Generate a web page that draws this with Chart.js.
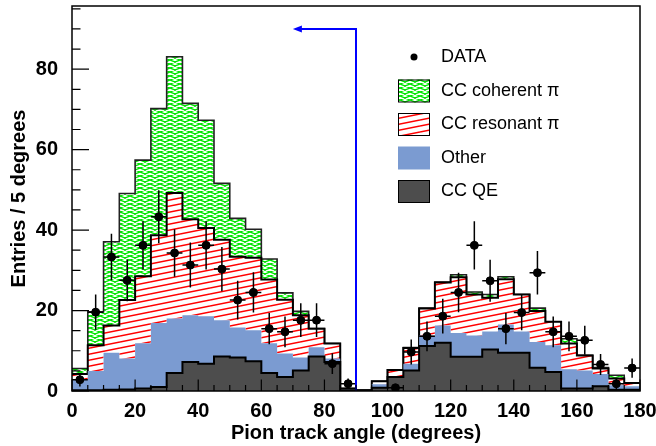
<!DOCTYPE html>
<html>
<head>
<meta charset="utf-8">
<script src="https://cdn.jsdelivr.net/npm/chart.js@4.4.0/dist/chart.umd.min.js"></script>
<style>
  html, body { margin: 0; padding: 0; background: #fff; }
  #wrap { width: 656px; height: 446px; }
</style>
</head>
<body>
<div id="wrap"><canvas id="angle-chart" width="656" height="446"></canvas></div>
<script>
// 5-degree bins, 0 to 180
const binEdges = [0, 5, 10, 15, 20, 25, 30, 35, 40, 45, 50, 55, 60, 65, 70, 75, 80, 85,
                  90, 95, 100, 105, 110, 115, 120, 125, 130, 135, 140, 145, 150, 155, 160, 165, 170, 175, 180];

// MC components per bin (stacked bottom to top)
const ccQE = [0.2, 0.2, 0.3, 0.4, 0.6, 1.0, 4.5, 7.2, 6.8, 8.6, 8.3, 7.4, 4.5, 3.5, 5.1, 8.6, 7.2, 0.2,
              0.1, 0.8, 3.5, 5.1, 11.2, 12.0, 8.5, 8.5, 10.3, 9.5, 9.5, 5.8, 4.7, 0.6, 0.6, 1.2, 0.3, 0.3];
const other = [2.8, 4.8, 9.2, 7.7, 11.3, 15.9, 13.5, 11.6, 11.8, 9.0, 7.5, 7.7, 7.4, 5.8, 3.2, 2.3, 0.9, 0.1,
               0.0, 0.9, 0.0, 1.7, 2.6, 4.3, 5.9, 5.3, 4.5, 7.0, 5.3, 6.4, 6.7, 4.8, 4.5, 3.0, 1.1, 0.9];
const ccResonant = [1.2, 6.4, 6.8, 14.5, 16.6, 21.8, 31.2, 23.9, 21.9, 20.0, 17.6, 18.0, 15.8, 13.4, 10.5, 4.6, 3.7, 0.3,
                    0.1, 0.7, 1.7, 3.9, 6.7, 10.7, 13.9, 10.2, 8.4, 11.3, 9.2, 7.7, 5.8, 6.4, 3.7, 1.4, 1.7, 0.8];
const ccCoherent = [1.4, 8.3, 20.8, 26.5, 28.9, 31.5, 33.9, 28.8, 26.8, 14.0, 9.5, 7.1, 5.1, 1.7, 1.0, 0.0, 0.0, 0.0,
                    0.0, 0.0, 0.1, 0.1, 0.1, 0.1, 0.6, 0.6, 0.8, 0.6, 0.0, 0.7, 0.0, 1.2, 0.1, 0.2, 0.8, 0.0];

// measured entries and their errors (empty bins have no marker)
const dataValues = [2.8, 19.6, 33.3, 27.5, 36.2, 43.3, 34.3, 31.3, 36.2, 30.3, 22.6, 24.5, 15.5, 14.7, 17.6, 17.6, 6.8, 1.8,
                    null, null, 0.8, 9.7, 13.6, 18.6, 24.5, 36.2, 27.4, 15.5, 19.5, 29.4, 14.7, 13.6, 12.6, 6.6, 1.8, 5.7];
const dataErrors = [1.7, 4.4, 5.8, 5.2, 6.0, 6.6, 5.9, 5.6, 6.0, 5.5, 4.8, 5.0, 3.9, 3.8, 4.2, 4.2, 2.6, 1.3,
                    null, null, 0.9, 3.1, 3.7, 4.3, 4.9, 6.0, 5.2, 3.9, 4.4, 5.4, 3.8, 3.7, 3.6, 2.6, 1.3, 2.4];

// cut arrow: vertical at 90 deg, pointing back towards 70 deg
const cutAngle = 90;
const arrowHeight = 90;
const arrowTip = 70;

const canvas = document.getElementById('angle-chart');
const mainCtx = canvas.getContext('2d');

function makePattern(w, h, color, lineWidth, drawLines) {
    const tile = document.createElement('canvas');
    tile.width = w;
    tile.height = h;
    const g = tile.getContext('2d');
    g.fillStyle = '#fff';
    g.fillRect(0, 0, w, h);
    g.strokeStyle = color;
    g.lineWidth = lineWidth;
    g.beginPath();
    drawLines(g);
    g.stroke();
    return mainCtx.createPattern(tile, 'repeat');
}

// red single hatch, gently rising to the right
const resonantFill = makePattern(30, 6, '#ff0000', 1.5, g => {
    for (let k = -1; k <= 2; k++) {
        g.moveTo(0, 6 * k + 6);
        g.lineTo(30, 6 * k);
    }
});

// green cross hatch
const coherentFill = makePattern(10, 4, '#00e600', 1.3, g => {
    for (let k = -1; k <= 2; k++) {
        g.moveTo(0, 4 * k);
        g.lineTo(10, 4 * k + 4);
        g.moveTo(0, 4 * k + 4);
        g.lineTo(10, 4 * k);
    }
});

const colors = {
    qe: '#4d4d4d',
    other: '#7b9bd1',
    arrow: '#0000ff'
};

// histogram as step line: value of bin i held from edge i to edge i+1
function stepPoints(values) {
    return binEdges.map((x, i) => ({ x, y: values[Math.min(i, values.length - 1)] }));
}

const dataPoints = [];
dataValues.forEach((v, i) => {
    if (v !== null) dataPoints.push({ x: (binEdges[i] + binEdges[i + 1]) / 2, y: v });
});

function histDataset(label, values, fill, background, border, width) {
    return {
        type: 'line',
        label,
        data: stepPoints(values),
        stack: 'mc',
        stepped: 'before',
        fill,
        backgroundColor: background,
        borderColor: border,
        borderWidth: width,
        pointRadius: 0,
        tension: 0
    };
}

const overlayPlugin = {
    id: 'overlay',
    afterDatasetsDraw(chart) {
        const { ctx, scales: { x, y } } = chart;

        // error bars on the data points
        ctx.save();
        ctx.strokeStyle = '#000';
        ctx.lineWidth = 1.5;
        ctx.beginPath();
        dataValues.forEach((v, i) => {
            if (v === null) return;
            const lo = binEdges[i], hi = binEdges[i + 1];
            const cx = x.getPixelForValue((lo + hi) / 2);
            const cy = y.getPixelForValue(v);
            ctx.moveTo(x.getPixelForValue(lo), cy);
            ctx.lineTo(x.getPixelForValue(hi), cy);
            ctx.moveTo(cx, y.getPixelForValue(Math.max(0, v - dataErrors[i])));
            ctx.lineTo(cx, y.getPixelForValue(v + dataErrors[i]));
        });
        ctx.stroke();

        // cut line and arrow
        const ax = x.getPixelForValue(cutAngle);
        const ay = y.getPixelForValue(arrowHeight);
        const tx = x.getPixelForValue(arrowTip);
        ctx.strokeStyle = colors.arrow;
        ctx.fillStyle = colors.arrow;
        ctx.lineWidth = 2;
        ctx.beginPath();
        ctx.moveTo(ax, y.getPixelForValue(0));
        ctx.lineTo(ax, ay);
        ctx.lineTo(tx + 4, ay);
        ctx.stroke();
        ctx.beginPath();
        ctx.moveTo(tx, ay);
        ctx.lineTo(tx + 9, ay - 3.5);
        ctx.lineTo(tx + 9, ay + 3.5);
        ctx.closePath();
        ctx.fill();
        ctx.restore();
    },
    afterDraw(chart) {
        const { ctx, chartArea: area, scales: { x, y } } = chart;
        ctx.save();

        // frame
        ctx.strokeStyle = '#000';
        ctx.lineWidth = 1.5;
        ctx.strokeRect(area.left, area.top, area.right - area.left, area.bottom - area.top);

        // inward tick marks
        ctx.lineWidth = 1.2;
        ctx.beginPath();
        for (let v = 0; v <= 95; v += 5) {
            const py = y.getPixelForValue(v);
            const len = v % 20 === 0 ? 17 : 8.5;
            ctx.moveTo(area.left, py);
            ctx.lineTo(area.left + len, py);
        }
        for (let v = 0; v <= 180; v += 5) {
            const px = x.getPixelForValue(v);
            const len = v % 20 === 0 ? 11.5 : 6;
            ctx.moveTo(px, area.bottom);
            ctx.lineTo(px, area.bottom - len);
        }
        ctx.stroke();

        // legend
        const boxX = 398, boxW = 32, boxH = 23, textX = 441;
        ctx.font = '18px "Liberation Sans", Arial, sans-serif';
        ctx.textBaseline = 'middle';
        ctx.fillStyle = '#000';

        ctx.beginPath();
        ctx.arc(boxX + boxW / 2, 57, 3.5, 0, Math.PI * 2);
        ctx.fill();
        ctx.fillText('DATA', textX, 57);

        const entries = [
            { label: 'CC coherent \u03c0', fill: coherentFill, border: true, cy: 91 },
            { label: 'CC resonant \u03c0', fill: resonantFill, border: true, cy: 124.5 },
            { label: 'Other', fill: colors.other, border: false, cy: 158 },
            { label: 'CC QE', fill: colors.qe, border: true, cy: 191.5 }
        ];
        entries.forEach(e => {
            const top = e.cy - boxH / 2;
            ctx.fillStyle = e.fill;
            ctx.fillRect(boxX, top, boxW, boxH);
            if (e.border) {
                ctx.strokeStyle = '#000';
                ctx.lineWidth = 1;
                ctx.strokeRect(boxX + 0.5, top + 0.5, boxW - 1, boxH - 1);
            }
            ctx.fillStyle = '#000';
            ctx.fillText(e.label, textX, e.cy);
        });
        ctx.restore();
    }
};

const axisFont = { family: '"Liberation Sans", Arial, sans-serif', size: 20, weight: 'bold' };

const angleChart = new Chart(mainCtx, {
    data: {
        datasets: [
            {
                type: 'scatter',
                label: 'DATA',
                data: dataPoints,
                stack: 'data',
                pointRadius: 4,
                pointBackgroundColor: '#000',
                pointBorderColor: '#000',
                pointBorderWidth: 1
            },
            histDataset('CC QE', ccQE, 'origin', colors.qe, '#000', 2),
            histDataset('Other', other, '-1', colors.other, 'rgba(0,0,0,0)', 1),
            histDataset('CC resonant', ccResonant, '-1', resonantFill, '#000', 2),
            histDataset('CC coherent', ccCoherent, '-1', coherentFill, '#222', 1.6)
        ]
    },
    options: {
        responsive: false,
        devicePixelRatio: 1,
        animation: false,
        layout: { padding: { top: 6, right: 16, left: 0, bottom: 0 } },
        plugins: {
            legend: { display: false },
            tooltip: { enabled: false }
        },
        scales: {
            x: {
                type: 'linear',
                min: 0,
                max: 180,
                grid: { display: false },
                border: { display: false },
                ticks: { stepSize: 20, font: axisFont, color: '#000', padding: 0, maxRotation: 0 },
                title: {
                    display: true,
                    text: 'Pion track angle (degrees)',
                    font: axisFont,
                    color: '#000',
                    padding: { top: 0, bottom: 1 }
                },
                afterFit: s => {
                    s.height = 55;
                    s.paddingLeft = 0;
                    s.paddingRight = 0;
                }
            },
            y: {
                type: 'linear',
                stacked: true,
                min: 0,
                max: 95.7,
                grid: { display: false },
                border: { display: false },
                ticks: { stepSize: 20, font: axisFont, color: '#000', padding: 6 },
                afterBuildTicks: s => { s.ticks = s.ticks.filter(t => t.value % 20 === 0); },
                title: {
                    display: true,
                    text: 'Entries / 5 degrees',
                    font: axisFont,
                    color: '#000',
                    padding: { top: 7, bottom: 0 }
                },
                afterFit: s => {
                    s.width = 72;
                    s.paddingTop = 0;
                    s.paddingBottom = 0;
                }
            }
        }
    },
    plugins: [overlayPlugin]
});
</script>
</body>
</html>
